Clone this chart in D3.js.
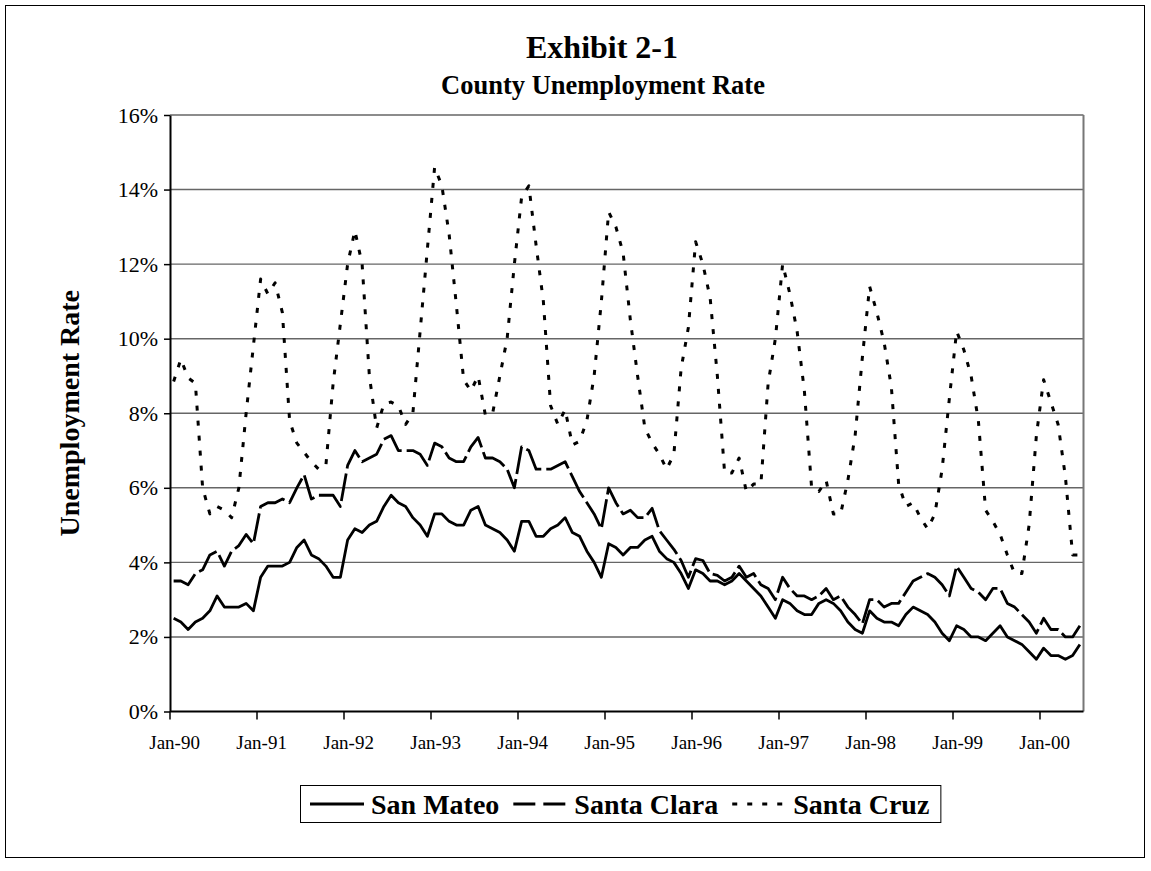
<!DOCTYPE html>
<html>
<head>
<meta charset="utf-8">
<script src="https://cdn.jsdelivr.net/npm/d3@7"></script>
<style>
body { margin: 0; background: #fff; }
svg { display: block; font-family: "Liberation Serif", "Times New Roman", serif; }
</style>
</head>
<body>
<div id="chart"></div>
<script>
// monthly categories Jan-90 .. Jun-00
var months = d3.timeMonths(new Date(1990, 0, 1), new Date(2000, 6, 1));
var categories = months.map(d3.timeFormat("%b-%y"));
var tickLabels = ["Jan-90", "Jan-91", "Jan-92", "Jan-93", "Jan-94", "Jan-95",
    "Jan-96", "Jan-97", "Jan-98", "Jan-99", "Jan-00"];
var yTicks = [0, 2, 4, 6, 8, 10, 12, 14, 16];
var seriesNames = ["San Mateo", "Santa Clara", "Santa Cruz"];

// unemployment rate, percent
var sanMateo = [
    2.5, 2.4, 2.2, 2.4, 2.5, 2.7, 3.1, 2.8, 2.8, 2.8, 2.9, 2.7,
    3.6, 3.9, 3.9, 3.9, 4.0, 4.4, 4.6, 4.2, 4.1, 3.9, 3.6, 3.6,
    4.6, 4.9, 4.8, 5.0, 5.1, 5.5, 5.8, 5.6, 5.5, 5.2, 5.0, 4.7,
    5.3, 5.3, 5.1, 5.0, 5.0, 5.4, 5.5, 5.0, 4.9, 4.8, 4.6, 4.3,
    5.1, 5.1, 4.7, 4.7, 4.9, 5.0, 5.2, 4.8, 4.7, 4.3, 4.0, 3.6,
    4.5, 4.4, 4.2, 4.4, 4.4, 4.6, 4.7, 4.3, 4.1, 4.0, 3.7, 3.3,
    3.8, 3.7, 3.5, 3.5, 3.4, 3.5, 3.7, 3.5, 3.3, 3.1, 2.8, 2.5,
    3.0, 2.9, 2.7, 2.6, 2.6, 2.9, 3.0, 2.9, 2.7, 2.4, 2.2, 2.1,
    2.7, 2.5, 2.4, 2.4, 2.3, 2.6, 2.8, 2.7, 2.6, 2.4, 2.1, 1.9,
    2.3, 2.2, 2.0, 2.0, 1.9, 2.1, 2.3, 2.0, 1.9, 1.8, 1.6, 1.4,
    1.7, 1.5, 1.5, 1.4, 1.5, 1.8
];
var santaClara = [
    3.5, 3.5, 3.4, 3.7, 3.8, 4.2, 4.3, 3.9, 4.3, 4.45, 4.75, 4.5,
    5.5, 5.6, 5.6, 5.7, 5.6, 6.0, 6.35, 5.7, 5.8, 5.8, 5.8, 5.5,
    6.6, 7.0, 6.7, 6.8, 6.9, 7.3, 7.4, 7.0, 7.0, 7.0, 6.9, 6.6,
    7.2, 7.1, 6.8, 6.7, 6.7, 7.1, 7.35, 6.8, 6.8, 6.7, 6.5, 6.0,
    7.1, 7.0, 6.5, 6.5, 6.5, 6.6, 6.7, 6.3, 5.9, 5.6, 5.3, 4.9,
    6.0, 5.6, 5.3, 5.4, 5.2, 5.2, 5.45, 4.85, 4.6, 4.35, 4.05, 3.6,
    4.1, 4.05, 3.7, 3.65, 3.5, 3.6, 3.9, 3.6, 3.7, 3.4, 3.3, 3.0,
    3.6, 3.3, 3.1, 3.1, 3.0, 3.1, 3.3, 3.0, 3.1, 2.8, 2.6, 2.35,
    3.0, 3.0, 2.8, 2.9, 2.9, 3.2, 3.5, 3.6, 3.7, 3.6, 3.4, 3.1,
    3.9, 3.6, 3.3, 3.2, 3.0, 3.3, 3.3, 2.9, 2.8, 2.6, 2.4, 2.1,
    2.5, 2.2, 2.2, 2.0, 2.0, 2.3
];
var santaCruz = [
    8.85, 9.45, 8.95, 8.8, 6.0, 5.3, 5.5, 5.4, 5.2, 6.0, 8.0, 9.8,
    11.6, 11.2, 11.5, 10.7, 7.8, 7.2, 6.95, 6.7, 6.5, 6.6, 8.8, 10.4,
    12.0, 12.9, 12.0, 9.0, 7.6, 8.25, 8.3, 8.2, 7.7, 8.0, 10.2, 12.4,
    14.6, 14.1, 12.8, 10.9, 8.9, 8.6, 9.0, 7.95, 8.0, 9.0, 10.0, 12.0,
    13.8, 14.1, 12.5, 11.0, 8.2, 7.7, 8.1, 7.15, 7.25, 7.8, 9.0, 11.0,
    13.4, 13.0, 12.3, 10.5, 9.0, 7.6, 7.2, 6.9, 6.5, 6.9, 9.2, 10.3,
    12.6, 12.0, 11.1, 9.0, 6.4, 6.4, 6.8, 5.9, 6.1, 6.1, 8.8, 10.0,
    12.0, 11.2, 10.2, 8.6, 6.0, 5.9, 6.2, 5.3, 5.3, 6.2, 7.4, 9.5,
    11.4, 10.7, 9.9, 8.7, 6.1, 5.5, 5.6, 5.2, 4.9, 5.3, 6.5, 8.4,
    10.2, 9.7, 9.0, 7.8, 5.4, 5.1, 4.75, 4.2, 3.7, 3.7, 5.0, 7.4,
    8.9, 8.3, 7.7, 6.3, 4.2, 4.2
];

var series = [
    { name: seriesNames[0], values: sanMateo, dash: null, legendDash: null, width: 2.8 },
    { name: seriesNames[1], values: santaClara, dash: "28,5", legendDash: "22,8", width: 2.8 },
    { name: seriesNames[2], values: santaCruz, dash: "5,10", legendDash: "5,10", width: 3 }
];

var margin = { top: 115, right: 67.5, bottom: 159.5, left: 170 },
    width = 913.5,
    height = 596.5;

var root = d3.select("#chart")
    .append("svg")
    .attr("width", 1151)
    .attr("height", 871);

// outer chart border
root.append("rect")
    .attr("x", 5.5).attr("y", 5.5)
    .attr("width", 1139).attr("height", 852)
    .attr("fill", "none")
    .attr("stroke", "#000")
    .attr("stroke-width", 1);

root.append("text")
    .attr("x", 602).attr("y", 58)
    .attr("text-anchor", "middle")
    .style("font-size", "32px").style("font-weight", "bold")
    .text("Exhibit 2-1");

root.append("text")
    .attr("x", 603).attr("y", 94)
    .attr("text-anchor", "middle")
    .style("font-size", "26.5px").style("font-weight", "bold")
    .text("County Unemployment Rate");

var svg = root.append("g")
    .attr("transform", "translate(" + margin.left + "," + margin.top + ")");

var x = d3.scaleBand()
    .domain(categories)
    .range([0, width]);

var y = d3.scaleLinear()
    .domain([0, 16])
    .range([height, 0]);

// gridlines
svg.selectAll(".grid")
    .data(yTicks.filter(function (d) { return d > 0; }))
    .enter()
    .append("line")
    .attr("x1", 0).attr("x2", width)
    .attr("y1", function (d) { return y(d); })
    .attr("y2", function (d) { return y(d); })
    .attr("stroke", "#666")
    .attr("stroke-width", 1.4);

// right plot border
svg.append("line")
    .attr("x1", width).attr("x2", width)
    .attr("y1", 0).attr("y2", height)
    .attr("stroke", "#777")
    .attr("stroke-width", 2);

var line = d3.line()
    .x(function (d, i) { return x(categories[i]) + x.bandwidth() / 2; })
    .y(function (d) { return y(d); });

svg.selectAll(".series")
    .data(series)
    .enter()
    .append("path")
    .attr("d", function (d) { return line(d.values); })
    .attr("fill", "none")
    .attr("stroke", "#000")
    .attr("stroke-width", function (d) { return d.width; })
    .attr("stroke-dasharray", function (d) { return d.dash; })
    .attr("stroke-linejoin", "round");

// y axis
var yAxis = svg.append("g")
    .call(d3.axisLeft(y).tickValues(yTicks).tickSize(6).tickSizeOuter(0).tickPadding(6)
        .tickFormat(function (d) { return d + "%"; }));
yAxis.select(".domain").attr("stroke-width", 2);
yAxis.selectAll(".tick line").attr("stroke-width", 1.5);
yAxis.selectAll("text")
    .style("font-size", "22px")
    .style("font-family", "Liberation Serif, serif");

// x axis, ticks on category boundaries
var xAxis = svg.append("g")
    .attr("transform", "translate(" + (-x.bandwidth() / 2) + "," + height + ")")
    .call(d3.axisBottom(x).tickValues(tickLabels).tickSize(8).tickSizeOuter(0).tickPadding(16));
xAxis.select(".domain").remove();
xAxis.selectAll(".tick line").attr("stroke-width", 1.5);
xAxis.selectAll(".tick text")
    .attr("x", x.bandwidth() / 2 + 1)
    .style("font-size", "19px")
    .style("font-family", "Liberation Serif, serif");
svg.append("line")
    .attr("x1", 0).attr("x2", width)
    .attr("y1", height).attr("y2", height)
    .attr("stroke", "#000")
    .attr("stroke-width", 2);

// y axis title
root.append("text")
    .attr("transform", "translate(79," + (margin.top + height / 2) + ") rotate(-90)")
    .attr("text-anchor", "middle")
    .style("font-size", "28px").style("font-weight", "bold")
    .text("Unemployment Rate");

// legend
var legend = root.append("g").attr("transform", "translate(300,785)");
var legendBox = legend.append("rect")
    .attr("x", 0.5).attr("y", 0.5)
    .attr("height", 37)
    .attr("fill", "#fff")
    .attr("stroke", "#000")
    .attr("stroke-width", 1);

var cursor = 10;
series.forEach(function (s) {
    legend.append("line")
        .attr("x1", cursor).attr("x2", cursor + 54)
        .attr("y1", 19).attr("y2", 19)
        .attr("stroke", "#000")
        .attr("stroke-width", s.width)
        .attr("stroke-dasharray", s.legendDash);
    var t = legend.append("text")
        .attr("x", cursor + 61).attr("y", 29)
        .style("font-size", "28px").style("font-weight", "bold")
        .text(s.name);
    cursor += 61 + t.node().getComputedTextLength() + 14;
});
legendBox.attr("width", cursor - 3);
</script>
</body>
</html>
